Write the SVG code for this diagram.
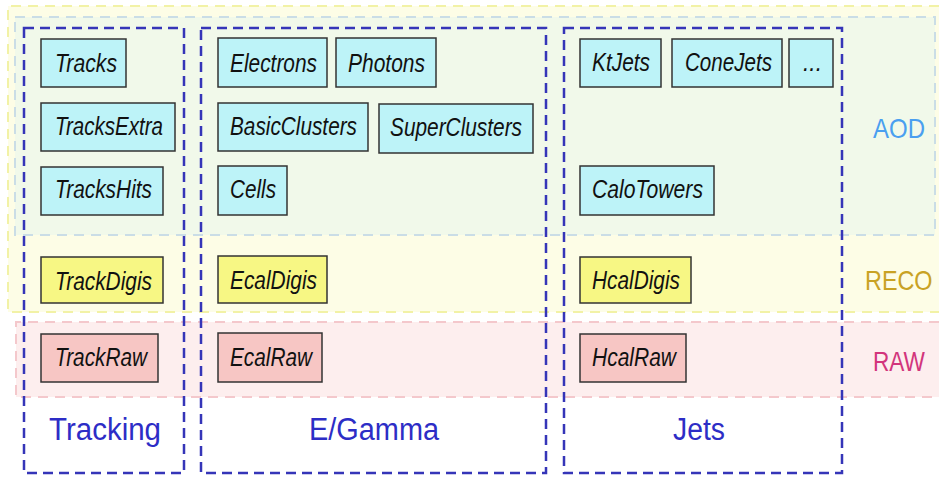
<svg xmlns="http://www.w3.org/2000/svg" width="939" height="478" viewBox="0 0 939 478">
<style>
.node rect{stroke:#333;stroke-width:1.5}
.aod rect{fill:#bdf3f8}
.reco rect{fill:#f7f784}
.raw rect{fill:#f7c6c4}
.node text{font-family:"Liberation Sans",Arial,sans-serif;font-style:italic;font-size:25px;fill:#111}
.col{fill:none;stroke:#3535b8;stroke-width:2.5;stroke-dasharray:10 6}
.colLabel{font-family:"Liberation Sans",Arial,sans-serif;font-size:31px;fill:#2d2dc6}
.tier{font-family:"Liberation Sans",Arial,sans-serif;font-size:28px}
.edge{fill:none;stroke-width:2;stroke-dasharray:10 7}
</style>
<rect width="939" height="478" fill="#ffffff"/>
<g id="bands">
<rect x="8" y="6" width="931" height="306" fill="#fdfde6"/>
<path class="edge" d="M939 6H8V312H939" stroke="#f2f2a6"/>
<rect x="15" y="17" width="920" height="218" fill="#f1f9ea" stroke="#cadde6" stroke-width="2" stroke-dasharray="10 7"/>
<rect x="16" y="322" width="923" height="75" fill="#fdeeee"/>
<path class="edge" d="M939 322H16V397H939" stroke="#f4c8cc"/>
<text class="tier" x="873" y="138" fill="#4a9ff0" textLength="52" lengthAdjust="spacingAndGlyphs">AOD</text>
<text class="tier" transform="translate(865 290) scale(0.835 1)" x="0" y="0" fill="#c9a224">RECO</text>
<text class="tier" x="873" y="371" fill="#d2357c" textLength="52" lengthAdjust="spacingAndGlyphs">RAW</text>
</g>
<g id="columns">
<g id="col-tracking"><rect class="col" x="24" y="28" width="160" height="445"/><text class="colLabel" x="49" y="440" textLength="112" lengthAdjust="spacingAndGlyphs">Tracking</text></g>
<g id="col-egamma"><rect class="col" x="201" y="28" width="345" height="445"/><text class="colLabel" x="309" y="440" textLength="130" lengthAdjust="spacingAndGlyphs">E/Gamma</text></g>
<g id="col-jets"><rect class="col" x="564" y="28" width="278" height="445"/><text class="colLabel" x="673" y="440" textLength="52" lengthAdjust="spacingAndGlyphs">Jets</text></g>
</g>
<g id="connectors"></g>
<g id="n-tracks" class="node aod"><rect x="41" y="39" width="85" height="48"/><text x="55" y="72" textLength="62" lengthAdjust="spacingAndGlyphs">Tracks</text></g>
<g id="n-tracksextra" class="node aod"><rect x="41" y="103" width="134" height="48"/><text x="55" y="135" textLength="108" lengthAdjust="spacingAndGlyphs">TracksExtra</text></g>
<g id="n-trackshits" class="node aod"><rect x="41" y="167" width="122" height="48"/><text x="55" y="198" textLength="97" lengthAdjust="spacingAndGlyphs">TracksHits</text></g>
<g id="n-trackdigis" class="node reco"><rect x="41" y="257" width="122" height="46"/><text x="55" y="290" textLength="97" lengthAdjust="spacingAndGlyphs">TrackDigis</text></g>
<g id="n-trackraw" class="node raw"><rect x="41" y="334" width="117" height="48"/><text x="55" y="366" textLength="92" lengthAdjust="spacingAndGlyphs">TrackRaw</text></g>
<g id="n-electrons" class="node aod"><rect x="218" y="38" width="109" height="49"/><text x="230" y="72" textLength="87" lengthAdjust="spacingAndGlyphs">Electrons</text></g>
<g id="n-photons" class="node aod"><rect x="336" y="38" width="100" height="49"/><text x="348" y="72" textLength="77" lengthAdjust="spacingAndGlyphs">Photons</text></g>
<g id="n-basicclusters" class="node aod"><rect x="218" y="103" width="150" height="48"/><text x="230" y="135" textLength="127" lengthAdjust="spacingAndGlyphs">BasicClusters</text></g>
<g id="n-superclusters" class="node aod"><rect x="379" y="104" width="154" height="49"/><text x="390" y="136" textLength="132" lengthAdjust="spacingAndGlyphs">SuperClusters</text></g>
<g id="n-cells" class="node aod"><rect x="218" y="166" width="69" height="49"/><text x="230" y="198" textLength="46" lengthAdjust="spacingAndGlyphs">Cells</text></g>
<g id="n-ecaldigis" class="node reco"><rect x="218" y="256" width="109" height="47"/><text x="230" y="289" textLength="87" lengthAdjust="spacingAndGlyphs">EcalDigis</text></g>
<g id="n-ecalraw" class="node raw"><rect x="218" y="333" width="104" height="49"/><text x="230" y="366" textLength="82" lengthAdjust="spacingAndGlyphs">EcalRaw</text></g>
<g id="n-ktjets" class="node aod"><rect x="580" y="39" width="81" height="48"/><text x="592" y="71" textLength="58" lengthAdjust="spacingAndGlyphs">KtJets</text></g>
<g id="n-conejets" class="node aod"><rect x="672" y="39" width="110" height="48"/><text x="685" y="71" textLength="87" lengthAdjust="spacingAndGlyphs">ConeJets</text></g>
<g id="n-more" class="node aod"><rect x="789" y="39" width="44" height="48"/><text x="803" y="71" textLength="19" lengthAdjust="spacingAndGlyphs">...</text></g>
<g id="n-calotowers" class="node aod"><rect x="580" y="166" width="134" height="49"/><text x="592" y="198" textLength="111" lengthAdjust="spacingAndGlyphs">CaloTowers</text></g>
<g id="n-hcaldigis" class="node reco"><rect x="580" y="257" width="111" height="46"/><text x="592" y="289" textLength="88" lengthAdjust="spacingAndGlyphs">HcalDigis</text></g>
<g id="n-hcalraw" class="node raw"><rect x="580" y="334" width="106" height="48"/><text x="592" y="366" textLength="84" lengthAdjust="spacingAndGlyphs">HcalRaw</text></g>
</svg>
